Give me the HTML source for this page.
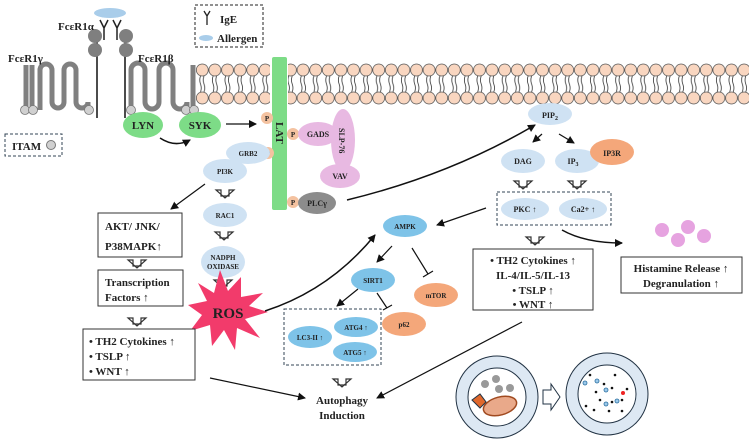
<!DOCTYPE html>
<html><head><meta charset="utf-8"><style>
body{margin:0;background:#fff}
svg{display:block}
text{font-family:"Liberation Serif",serif;font-weight:bold;fill:#222}
</style></head><body>
<svg width="749" height="443" viewBox="0 0 749 443" xmlns="http://www.w3.org/2000/svg">
<defs>
<marker id="ar" markerWidth="8" markerHeight="8" refX="7" refY="4" orient="auto" markerUnits="userSpaceOnUse"><path d="M0,0 L8,4 L0,8 Z" fill="#111"/></marker>
<g id="hd"><path d="M-9,-7 h5 v6 h8 v-6 h5 l-9,8 z" fill="#fff" stroke="#333" stroke-width="1.2"/></g>
<pattern id="lip" x="196" y="0" width="12.6" height="120" patternUnits="userSpaceOnUse">
<circle cx="6.3" cy="70" r="6" fill="#f9d6c0" stroke="#555" stroke-width="0.8"/>
<circle cx="6.3" cy="98" r="6" fill="#f9d6c0" stroke="#555" stroke-width="0.8"/>
<path d="M4.5,76 q-1.5,4 0,8 q1.5,4 0,8 M8,76 q-1.5,4 0,8 q1.5,4 0,8" fill="none" stroke="#333" stroke-width="0.8"/>
</pattern>
</defs>
<rect x="196" y="62" width="74" height="44" fill="url(#lip)"/>
<rect x="288" y="62" width="461" height="44" fill="url(#lip)"/>
<g stroke="#808080" stroke-width="5" fill="none">
<path d="M26 110 V65 M32 110 V65"/>
<path d="M40 110 V70 a6 6 0 0 1 12 0 V102 a6 6 0 0 0 12 0 V70 a6 6 0 0 1 12 0 V102 a6 6 0 0 0 12 0 V110"/>
<path d="M131 110 V70 a7 7 0 0 1 14 0 V102 a7 7 0 0 0 14 0 V70 a7 7 0 0 1 14 0 V102 a7 7 0 0 0 14 0 V110 M193 110 V65"/>
</g>
<g stroke="#111" stroke-width="1.5"><line x1="97" y1="42" x2="97" y2="118"/><line x1="125" y1="42" x2="125" y2="118"/></g>
<g fill="#7f7f7f"><circle cx="95" cy="36" r="7"/><circle cx="95" cy="50" r="7"/><circle cx="126" cy="36" r="7"/><circle cx="126" cy="50" r="7"/></g>
<g stroke="#222" stroke-width="1.5" fill="none"><path d="M104 40 V28 M104 28 l-4 -8 M104 28 l4 -8"/><path d="M117 40 V28 M117 28 l-4 -8 M117 28 l4 -8"/></g>
<ellipse cx="110" cy="13" rx="16" ry="5" fill="#a9cdea"/>
<g fill="#d0d0d0" stroke="#777" stroke-width="0.8"><circle cx="25" cy="110" r="4.5"/><circle cx="33" cy="110" r="4.5"/><circle cx="89" cy="110" r="4.5"/><circle cx="131" cy="110" r="4.5"/><circle cx="186" cy="110" r="4.5"/><circle cx="194" cy="110" r="4.5"/></g>
<text x="8" y="62" font-size="11">FcεR1γ</text>
<text x="58" y="30" font-size="11">FcεR1α</text>
<text x="138" y="62" font-size="11">FcεR1β</text>
<rect x="5" y="134" width="57" height="22" fill="none" stroke="#345" stroke-width="1" stroke-dasharray="3,2"/>
<text x="12" y="150" font-size="11">ITAM</text><circle cx="51" cy="145" r="4.5" fill="#d0d0d0" stroke="#777"/>
<rect x="195" y="5" width="68" height="42" fill="none" stroke="#222" stroke-width="1" stroke-dasharray="3,2"/>
<path d="M207 25 V16 M207 16 l-3 -5 M207 16 l3 -5" stroke="#222" stroke-width="1.3" fill="none"/>
<text x="220" y="23" font-size="11">IgE</text>
<ellipse cx="206" cy="38" rx="7" ry="3" fill="#a9cdea"/><text x="217" y="42" font-size="11">Allergen</text>
<rect x="272" y="57" width="15" height="153" rx="2" fill="#7ddc87"/>
<text x="0" y="0" font-size="11" transform="translate(276,122) rotate(90)">LAT</text>
<ellipse cx="143" cy="125" rx="20" ry="13" fill="#7ddc87"/><text x="143" y="129" font-size="11" text-anchor="middle">LYN</text>
<ellipse cx="200" cy="125" rx="21" ry="13" fill="#7ddc87"/><text x="200" y="129" font-size="11" text-anchor="middle">SYK</text>
<path d="M160 138 Q175 148 190 140" stroke="#111" stroke-width="1.5" fill="none" marker-end="url(#ar)"/>
<line x1="226" y1="124" x2="256" y2="124" stroke="#111" stroke-width="1.2" marker-end="url(#ar)"/>
<g font-size="7"><g fill="#f4c2a0"><circle cx="267" cy="118" r="6"/><circle cx="293" cy="134" r="6"/><circle cx="268" cy="153" r="6"/><circle cx="293" cy="202" r="6"/></g>
<text x="267" y="121" text-anchor="middle">P</text><text x="293" y="137" text-anchor="middle">P</text><text x="268" y="156" text-anchor="middle">P</text><text x="293" y="205" text-anchor="middle">P</text></g>
<ellipse cx="343" cy="140" rx="12" ry="31" fill="#e8b9e2"/>
<ellipse cx="318" cy="134" rx="20" ry="12" fill="#e8b9e2"/><text x="318" y="137" font-size="8" text-anchor="middle">GADS</text>
<ellipse cx="340" cy="176" rx="20" ry="12" fill="#e8b9e2"/><text x="340" y="179" font-size="8" text-anchor="middle">VAV</text>
<text x="0" y="0" font-size="8" transform="translate(339,128) rotate(90)">SLP-76</text>
<ellipse cx="317" cy="203" rx="19" ry="11" fill="#8c8c8c"/><text x="317" y="206" font-size="8" text-anchor="middle">PLCγ</text>
<ellipse cx="248" cy="153" rx="22" ry="11" fill="#cfe2f3"/><text x="248" y="156" font-size="7" text-anchor="middle">GRB2</text>
<ellipse cx="225" cy="171" rx="22" ry="12" fill="#cfe2f3"/><text x="225" y="174" font-size="7" text-anchor="middle">PI3K</text>
<use href="#hd" x="225" y="197"/>
<ellipse cx="225" cy="215" rx="22" ry="12" fill="#cfe2f3"/><text x="225" y="218" font-size="7" text-anchor="middle">RAC1</text>
<use href="#hd" x="224" y="239"/>
<ellipse cx="223" cy="262" rx="22" ry="16" fill="#cfe2f3"/><text x="223" y="260" font-size="7" text-anchor="middle">NADPH</text><text x="223" y="269" font-size="7" text-anchor="middle">OXIDASE</text>
<use href="#hd" x="223" y="287"/>
<polygon fill="#f23b6b" points="268,312 245,319 260,338 237,328 235,350 224,330 212,346 210,325 190,331 202,315 188,305 207,301 198,283 214,293 220,270 228,291 241,277 241,297 263,293 249,306"/>
<text x="228" y="318" font-size="15" text-anchor="middle">ROS</text>
<line x1="205" y1="184" x2="171" y2="209" stroke="#111" stroke-width="1.2" marker-end="url(#ar)"/>
<g fill="#fff" stroke="#333" stroke-width="1"><rect x="98" y="213" width="84" height="44"/><rect x="98" y="270" width="85" height="36"/><rect x="83" y="329" width="112" height="51"/></g>
<g font-size="11"><text x="105" y="230">AKT/ JNK/</text><text x="105" y="250">P38MAPK↑</text>
<text x="105" y="286">Transcription</text><text x="105" y="301">Factors ↑</text>
<text x="89" y="345">• TH2 Cytokines ↑</text><text x="89" y="360">• TSLP ↑</text><text x="89" y="375">• WNT ↑</text></g>
<use href="#hd" x="137" y="267"/><use href="#hd" x="137" y="325"/>
<path d="M265 311 Q330 290 375 235" stroke="#111" stroke-width="1.5" fill="none" marker-end="url(#ar)"/>
<ellipse cx="405" cy="226" rx="22" ry="11" fill="#7ec3e8"/><text x="405" y="229" font-size="7" text-anchor="middle">AMPK</text>
<line x1="486" y1="208" x2="437" y2="225" stroke="#111" stroke-width="1.2" marker-end="url(#ar)"/>
<line x1="392" y1="246" x2="377" y2="262" stroke="#111" stroke-width="1.2" marker-end="url(#ar)"/>
<path d="M412 248 L428 274 M423 277 L433 271" stroke="#111" stroke-width="1.2"/>
<ellipse cx="436" cy="295" rx="22" ry="12" fill="#f4a77a"/><text x="436" y="298" font-size="7" text-anchor="middle">mTOR</text>
<ellipse cx="373" cy="280" rx="22" ry="12" fill="#7ec3e8"/><text x="373" y="283" font-size="7" text-anchor="middle">SIRT1</text>
<path d="M377 293 L387 308 M383 310 L392 305" stroke="#111" stroke-width="1.2"/>
<ellipse cx="404" cy="324" rx="22" ry="12" fill="#f4a77a"/><text x="404" y="327" font-size="7" text-anchor="middle">p62</text>
<line x1="358" y1="289" x2="337" y2="306" stroke="#111" stroke-width="1.2" marker-end="url(#ar)"/>
<rect x="284" y="309" width="97" height="56" fill="none" stroke="#345" stroke-dasharray="3,2"/>
<ellipse cx="310" cy="337" rx="22" ry="11" fill="#7ec3e8"/><text x="310" y="340" font-size="7" text-anchor="middle">LC3-II ↑</text>
<ellipse cx="356" cy="327" rx="22" ry="10" fill="#7ec3e8"/><text x="356" y="330" font-size="7" text-anchor="middle">ATG4 ↑</text>
<ellipse cx="355" cy="352" rx="22" ry="10" fill="#7ec3e8"/><text x="355" y="355" font-size="7" text-anchor="middle">ATG5 ↑</text>
<use href="#hd" x="342" y="386"/>
<text x="342" y="404" font-size="11" text-anchor="middle">Autophagy</text><text x="342" y="419" font-size="11" text-anchor="middle">Induction</text>
<line x1="210" y1="378" x2="305" y2="398" stroke="#111" stroke-width="1.2" marker-end="url(#ar)"/>
<line x1="522" y1="322" x2="377" y2="398" stroke="#111" stroke-width="1.2" marker-end="url(#ar)"/>
<path d="M347 200 Q450 175 535 125" stroke="#111" stroke-width="1.5" fill="none" marker-end="url(#ar)"/>
<ellipse cx="550" cy="114" rx="22" ry="11" fill="#cfe2f3"/><text x="550" y="118" font-size="8" text-anchor="middle">PIP<tspan font-size="6" dy="2">2</tspan></text>
<line x1="542" y1="134" x2="533" y2="142" stroke="#111" stroke-width="1.2" marker-end="url(#ar)"/>
<line x1="559" y1="134" x2="574" y2="143" stroke="#111" stroke-width="1.2" marker-end="url(#ar)"/>
<ellipse cx="523" cy="161" rx="22" ry="12" fill="#cfe2f3"/><text x="523" y="164" font-size="8" text-anchor="middle">DAG</text>
<ellipse cx="577" cy="161" rx="22" ry="12" fill="#cfe2f3"/><text x="573" y="164" font-size="8" text-anchor="middle">IP<tspan font-size="6" dy="2">3</tspan></text>
<ellipse cx="612" cy="152" rx="22" ry="13" fill="#f4a77a"/><text x="612" y="156" font-size="8" text-anchor="middle">IP3R</text>
<use href="#hd" x="523" y="188"/><use href="#hd" x="577" y="188"/>
<rect x="497" y="192" width="114" height="33" fill="none" stroke="#345" stroke-dasharray="3,2"/>
<ellipse cx="525" cy="209" rx="24" ry="11" fill="#cfe2f3"/><text x="525" y="212" font-size="8" text-anchor="middle">PKC ↑</text>
<ellipse cx="583" cy="209" rx="24" ry="11" fill="#cfe2f3"/><text x="583" y="212" font-size="8" text-anchor="middle">Ca2+ ↑</text>
<use href="#hd" x="535" y="244"/>
<rect x="473" y="249" width="120" height="61" fill="#fff" stroke="#333"/>
<g font-size="11" text-anchor="middle"><text x="533" y="264">• TH2 Cytokines ↑</text><text x="533" y="279">IL-4/IL-5/IL-13</text><text x="533" y="294">• TSLP ↑</text><text x="533" y="308">• WNT ↑</text></g>
<path d="M562 230 Q585 243 622 243" stroke="#111" stroke-width="1.5" fill="none" marker-end="url(#ar)"/>
<g fill="#e6a3e0"><circle cx="662" cy="230" r="7"/><circle cx="688" cy="227" r="7"/><circle cx="678" cy="240" r="7"/><circle cx="704" cy="236" r="7"/></g>
<rect x="621" y="257" width="121" height="36" fill="#fff" stroke="#333"/>
<text x="681" y="272" font-size="11" text-anchor="middle">Histamine Release ↑</text><text x="681" y="287" font-size="11" text-anchor="middle">Degranulation ↑</text>
<g stroke="#234" stroke-width="1"><circle cx="497" cy="397" r="41" fill="#dde8f3"/><circle cx="497" cy="397" r="29" fill="#fff"/>
<circle cx="607" cy="394" r="41" fill="#dde8f3"/><circle cx="607" cy="394" r="29" fill="#fff"/></g>
<g fill="#999"><circle cx="485" cy="384" r="4"/><circle cx="496" cy="379" r="4"/><circle cx="499" cy="389" r="4"/><circle cx="510" cy="388" r="4"/></g>
<ellipse cx="500" cy="406" rx="17" ry="9" fill="#e9a98a" stroke="#a04a20" stroke-width="1.5" transform="rotate(-15 500 406)"/>
<path d="M472 400 l8 -6 l6 8 l-6 6 z" fill="#e0682c" stroke="#234"/>
<path d="M543 390 h8 v-6 l9 13 l-9 13 v-6 h-8 z" fill="#fff" stroke="#234" stroke-width="1"/>
<g fill="#111"><circle cx="590" cy="375" r="1.3"/><circle cx="596" cy="392" r="1.3"/><circle cx="604" cy="384" r="1.3"/><circle cx="612" cy="388" r="1.3"/><circle cx="600" cy="400" r="1.3"/><circle cx="612" cy="402" r="1.3"/><circle cx="622" cy="400" r="1.3"/><circle cx="586" cy="406" r="1.3"/><circle cx="609" cy="411" r="1.3"/><circle cx="622" cy="411" r="1.3"/><circle cx="615" cy="375" r="1.3"/><circle cx="627" cy="389" r="1.3"/><circle cx="594" cy="410" r="1.3"/></g>
<g fill="#9cc9ea" stroke="#2a6fa0" stroke-width="0.8"><circle cx="585" cy="383" r="2"/><circle cx="597" cy="381" r="2"/><circle cx="606" cy="390" r="2"/><circle cx="606" cy="404" r="2"/><circle cx="617" cy="401" r="2"/></g>
<circle cx="623" cy="393" r="2" fill="#e22"/>
</svg>
</body></html>
